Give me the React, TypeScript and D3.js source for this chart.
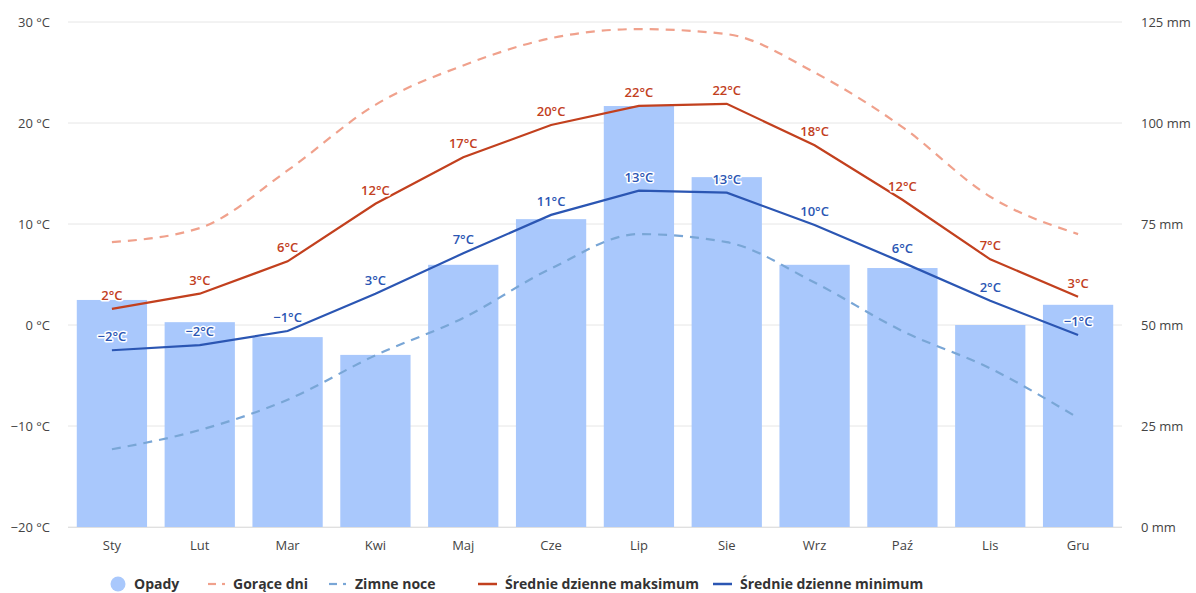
import React from "react";
import * as d3 from "d3";

const months = ["Sty", "Lut", "Mar", "Kwi", "Maj", "Cze", "Lip", "Sie", "Wrz", "Paź", "Lis", "Gru"];
const precipitation = [56.2, 50.7, 47, 42.6, 64.9, 76.2, 104.2, 86.6, 64.9, 64.1, 50, 55];
const avgMax = [1.6, 3.1, 6.3, 12.0, 16.6, 19.8, 21.7, 21.9, 17.8, 12.4, 6.5, 2.8];
const avgMin = [-2.5, -2.0, -0.6, 3.1, 7.1, 10.9, 13.3, 13.1, 9.9, 6.2, 2.4, -1.0];
const hotDays = [8.2, 9.6, 15.3, 21.8, 25.7, 28.4, 29.3, 28.8, 25.0, 19.6, 12.7, 9.0];
const coldNights = [-12.3, -10.4, -7.4, -3.0, 0.7, 5.6, 9.0, 8.2, 4.2, -0.6, -4.3, -9.2];
const tempTicks = [-20, -10, 0, 10, 20, 30];
const precTicks = [0, 25, 50, 75, 100, 125];

const W = 1196;
const H = 593;
const left = 68;
const right = 1122;
const top = 22;
const bottom = 527;

const FONT = "'Open Sans', 'Noto Sans', sans-serif";
const C_BAR = "#a9c8fc";
const C_HOT = "#f0a18c";
const C_COLD = "#79a6d6";
const C_MAX = "#c2401e";
const C_MIN = "#2b56b3";

export default function App() {
  const x = d3
    .scaleBand<string>()
    .domain(months)
    .range([left, right])
    .paddingInner(0.2)
    .paddingOuter(0.1);
  const cx = (i: number) => (x(months[i]) as number) + x.bandwidth() / 2;
  const yT = d3.scaleLinear().domain([-20, 30]).range([bottom, top]);
  const yP = d3.scaleLinear().domain([0, 125]).range([bottom, top]);

  const lineLin = d3.line<number>().x((_, i) => cx(i)).y((d) => yT(d));
  const lineSmooth = d3
    .line<number>()
    .x((_, i) => cx(i))
    .y((d) => yT(d))
    .curve(d3.curveMonotoneX);

  const fmt = (v: number) => {
    const r = Math.round(v);
    return (r < 0 ? "\u2212" + Math.abs(r) : String(r)) + "°C";
  };

  const labels = (data: number[], color: string) =>
    data.map((v, i) => (
      <text
        key={i}
        x={cx(i)}
        y={yT(v) - 9}
        textAnchor="middle"
        fontSize={13}
        fontWeight={600}
        fill={color}
        stroke="#fff"
        strokeWidth={3}
        strokeLinejoin="round"
        paintOrder="stroke"
        fontFamily={FONT}
      >
        {fmt(v)}
      </text>
    ));

  const legendY = 589;
  const legend = [
    { type: "circle", color: C_BAR, label: "Opady", sx: 111, tx: 134 },
    { type: "dash", color: C_HOT, label: "Gorące dni", sx: 208, tx: 233 },
    { type: "dash", color: C_COLD, label: "Zimne noce", sx: 329, tx: 355 },
    { type: "solid", color: C_MAX, label: "Średnie dzienne maksimum", sx: 478, tx: 505 },
    { type: "solid", color: C_MIN, label: "Średnie dzienne minimum", sx: 713, tx: 740 },
  ];

  return (
    <svg width={W} height={H} style={{ position: "absolute", left: 0, top: 0, background: "#fff" }}>
      {tempTicks.map((t) => (
        <line key={t} x1={left} x2={right} y1={yT(t)} y2={yT(t)} stroke="#e6e6e6" strokeWidth={1} />
      ))}
      {tempTicks.map((t) => (
        <text key={t} x={50} y={yT(t) + 4.5} textAnchor="end" fontSize={13} fill="#444" fontFamily={FONT}>
          {(t < 0 ? "\u2212" + Math.abs(t) : t) + " °C"}
        </text>
      ))}
      {precTicks.map((t) => (
        <text key={t} x={1141} y={yP(t) + 4.5} textAnchor="start" fontSize={13} fill="#444" fontFamily={FONT}>
          {t + " mm"}
        </text>
      ))}
      {precipitation.map((v, i) => (
        <rect
          key={i}
          x={x(months[i]) as number}
          y={yP(v)}
          width={x.bandwidth()}
          height={yP(0) - yP(v)}
          fill={C_BAR}
        />
      ))}
      <line x1={left} x2={right} y1={bottom + 0.5} y2={bottom + 0.5} stroke="#e0e0e0" />
      {months.map((m, i) => (
        <text key={m} x={cx(i)} y={550} textAnchor="middle" fontSize={13} fill="#444" fontFamily={FONT}>
          {m}
        </text>
      ))}
      <path d={lineSmooth(hotDays) || ""} fill="none" stroke={C_HOT} strokeWidth={2.2} strokeDasharray="9,7" />
      <path d={lineSmooth(coldNights) || ""} fill="none" stroke={C_COLD} strokeWidth={2.2} strokeDasharray="9,7" />
      <path d={lineLin(avgMax) || ""} fill="none" stroke={C_MAX} strokeWidth={2.2} />
      <path d={lineLin(avgMin) || ""} fill="none" stroke={C_MIN} strokeWidth={2.2} />
      {labels(avgMax, C_MAX)}
      {labels(avgMin, C_MIN)}
      {legend.map((l) => (
        <g key={l.label}>
          {l.type === "circle" ? (
            <circle cx={l.sx + 7} cy={legendY - 5} r={7.5} fill={l.color} />
          ) : l.type === "dash" ? (
            <g>
              <line x1={l.sx} x2={l.sx + 8} y1={legendY - 5} y2={legendY - 5} stroke={l.color} strokeWidth={2.2} />
              <line x1={l.sx + 14} x2={l.sx + 17} y1={legendY - 5} y2={legendY - 5} stroke={l.color} strokeWidth={2.2} />
            </g>
          ) : (
            <line x1={l.sx} x2={l.sx + 19} y1={legendY - 5} y2={legendY - 5} stroke={l.color} strokeWidth={2.5} />
          )}
          <text x={l.tx} y={legendY} fontSize={14} fontWeight={700} fill="#333" fontFamily={FONT}>
            {l.label}
          </text>
        </g>
      ))}
    </svg>
  );
}
